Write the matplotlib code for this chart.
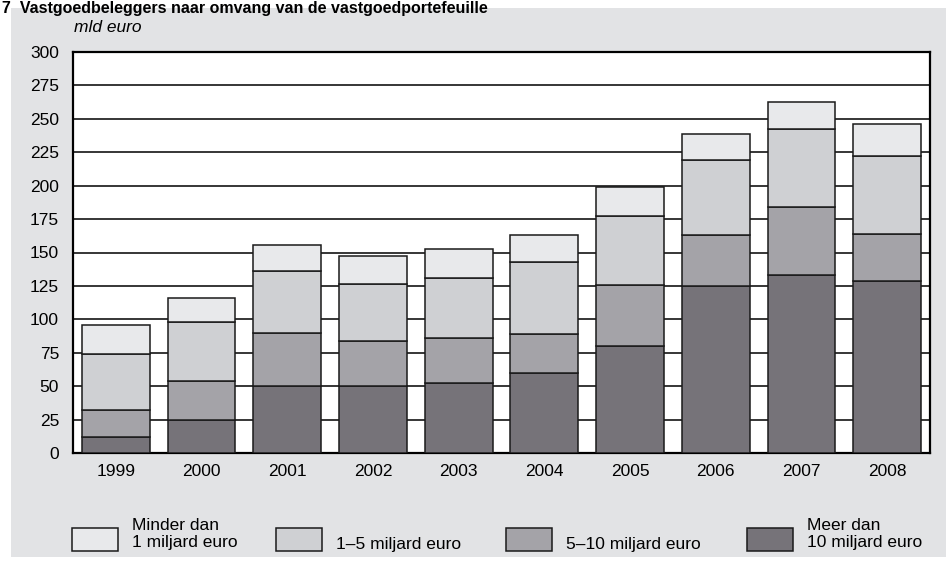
import numpy as np
import matplotlib.pyplot as plt
from matplotlib.patches import Rectangle

plt.rcParams['font.family'] = ['Liberation Sans', 'DejaVu Sans']

years = ['1999', '2000', '2001', '2002', '2003', '2004', '2005', '2006', '2007', '2008']

# mld euro per portfolio size class, stacked from the bottom up
meer_dan_10 = [12.0, 24.9, 50.0, 50.0, 52.3, 59.8, 80.4, 125.2, 133.2, 128.9]
tussen_5_10 = [20.3, 28.6, 40.1, 34.1, 34.1, 29.1, 45.3, 37.9, 51.0, 34.9]
tussen_1_5 = [41.9, 44.8, 46.1, 42.1, 44.8, 54.2, 51.6, 56.0, 58.1, 58.5]
minder_dan_1 = [21.6, 17.5, 19.4, 21.4, 21.4, 20.0, 21.4, 19.9, 20.3, 23.5]

series = [meer_dan_10, tussen_5_10, tussen_1_5, minder_dan_1]
colors = ['#767379', '#a4a3a8', '#cfd0d3', '#e8e9eb']

W, H = 946, 561
fig = plt.figure(figsize=(W / 100, H / 100), dpi=100, facecolor='white')

# grey panel behind everything
fig.patches.append(Rectangle((11 / W, 4 / H), 935 / W, 549 / H,
                             transform=fig.transFigure, facecolor='#e2e3e5',
                             edgecolor='none', zorder=-10))

fig.text(2 / W, 1 - 1 / H, '7  Vastgoedbeleggers naar omvang van de vastgoedportefeuille',
         fontsize=11.5, fontweight='bold', ha='left', va='top')

ax = fig.add_axes([73 / W, (H - 453) / H, (930 - 73) / W, (453 - 52) / H])
ax.set_facecolor('white')

x = np.arange(len(years))
bottom = np.zeros(len(years))
for vals, col in zip(series, colors):
    ax.bar(x, vals, width=0.79, bottom=bottom, color=col,
           edgecolor='#1a1a1a', linewidth=1.1, zorder=3)
    bottom += np.array(vals)

ax.set_xlim(-0.5, len(years) - 0.5)
ax.set_ylim(0, 300)
ax.set_yticks(np.arange(0, 301, 25))
ax.set_xticks(x)
ax.set_xticklabels(years)
ax.tick_params(axis='both', length=0, labelsize=12.5)
ax.tick_params(axis='y', pad=10)
ax.tick_params(axis='x', pad=8)
ax.yaxis.grid(True, color='black', linewidth=1.1)
ax.set_axisbelow(True)
for sp in ax.spines.values():
    sp.set_linewidth(1.6)
    sp.set_color('black')

fig.text(74 / W, 1 - 28 / H, 'mld euro', fontsize=12.5, style='italic',
         ha='left', va='center')

# legend, drawn by hand: boxes and labels in pixel positions
legend_items = [
    (72, 'Minder dan\n1 miljard euro', colors[3], 534),
    (276, '1\u20135 miljard euro', colors[2], 545),
    (506, '5\u201310 miljard euro', colors[1], 545),
    (747, 'Meer dan\n10 miljard euro', colors[0], 534),
]
for x0, text, col, ty in legend_items:
    fig.patches.append(Rectangle((x0 / W, 1 - 551 / H), 46 / W, 23 / H,
                                 transform=fig.transFigure, facecolor=col,
                                 edgecolor='#1a1a1a', linewidth=1.1))
    fig.text((x0 + 60) / W, 1 - ty / H, text, fontsize=12.5,
             ha='left', va='center', linespacing=1.15)

fig.savefig('out.png', dpi=100)
